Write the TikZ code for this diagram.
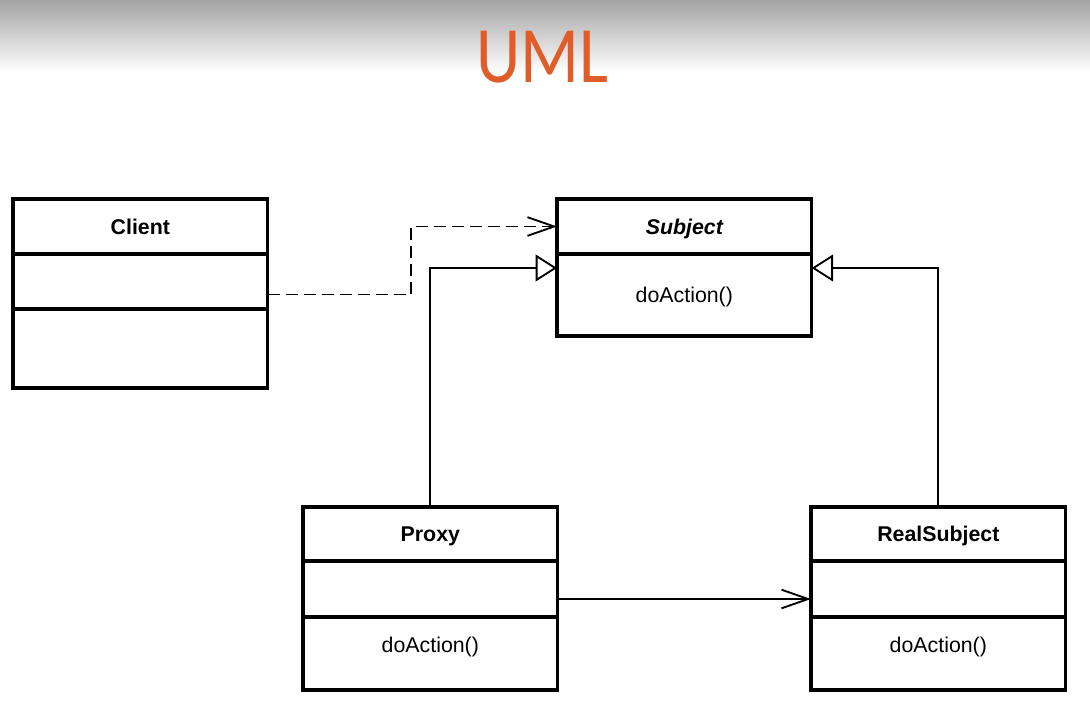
\documentclass[tikz,border=0pt]{standalone}
\usepackage{fontspec}
\setmainfont{Liberation Sans}
\newfontfamily\titlefont{Carlito}
\usetikzlibrary{positioning,arrows.meta}
\definecolor{umlorange}{RGB}{224,92,40}

\tikzstyle{classbox} = [draw=black,line width=2.5pt,rectangle,minimum width=191pt,outer sep=0pt,inner sep=0pt,align=center,text height=11.5pt,text depth=0pt,font=\fontsize{16}{19}\selectfont]
\tikzstyle{classhead} = [classbox,minimum height=41.25pt,font=\fontsize{16}{19}\selectfont\bfseries]
\tikzstyle{opsbox} = [classbox,text depth=13.5pt]
\tikzstyle{depend} = [line width=1.4pt,dash pattern=on 9pt off 4.5pt,-{Straight Barb[length=20pt,width=14pt,line width=1.4pt]}]
\tikzstyle{inherit} = [line width=1.4pt,-{Triangle[open,length=16pt,width=20pt,line width=1.4pt,fill=white]}]
\tikzstyle{assoc} = [line width=1.4pt,-{Straight Barb[length=20pt,width=14pt,line width=1.4pt]}]

\begin{document}
\begin{tikzpicture}[x=0.75pt,y=-0.75pt]
	% page
	\useasboundingbox (0,0) rectangle (1090,714);
	\fill[white] (0,0) rectangle (1090,714);
	\shade[top color=black!36,bottom color=white] (0,0) rectangle (1090,72);
	\node (title) [text=umlorange,inner sep=0pt] at (542,57.5) {\titlefont\fontsize{60}{61}\selectfont\scalebox{0.86}[1]{UML}};
	% client
	\node (client) [classhead,anchor=north west] at (13,199) {Client};
	\node (clientattr) [classbox,minimum height=41.25pt,below=0pt of client] {};
	\node (clientops) [classbox,minimum height=59.25pt,below=0pt of clientattr] {};
	% subject
	\node (subject) [classhead,anchor=north west] at (557,199) {\itshape Subject};
	\node (subjectops) [classbox,minimum height=61.5pt,below=0pt of subject] {doAction()};
	% proxy
	\node (proxy) [classhead,minimum height=40.5pt,anchor=north west] at (303,507) {Proxy};
	\node (proxyattr) [classbox,minimum height=42pt,below=0pt of proxy] {};
	\node (proxyops) [opsbox,minimum height=54.75pt,below=0pt of proxyattr] {doAction()};
	% real subject
	\node (real) [classhead,minimum height=40.5pt,anchor=north west] at (811,507) {RealSubject};
	\node (realattr) [classbox,minimum height=42pt,below=0pt of real] {};
	\node (realops) [opsbox,minimum height=54.75pt,below=0pt of realattr] {doAction()};
	% connections
	\draw [depend] ([yshift=-9.75pt]clientattr.east) -- ++(143,0) |- (subject.west);
	\draw [inherit] (proxy.north) |- ([yshift=-10.5pt]subjectops.north west);
	\draw [inherit] (real.north) |- ([yshift=-10.5pt]subjectops.north east);
	\draw [assoc] ([yshift=-7.5pt]proxyattr.east) -- ([yshift=-7.5pt]realattr.west);
\end{tikzpicture}
\end{document}
